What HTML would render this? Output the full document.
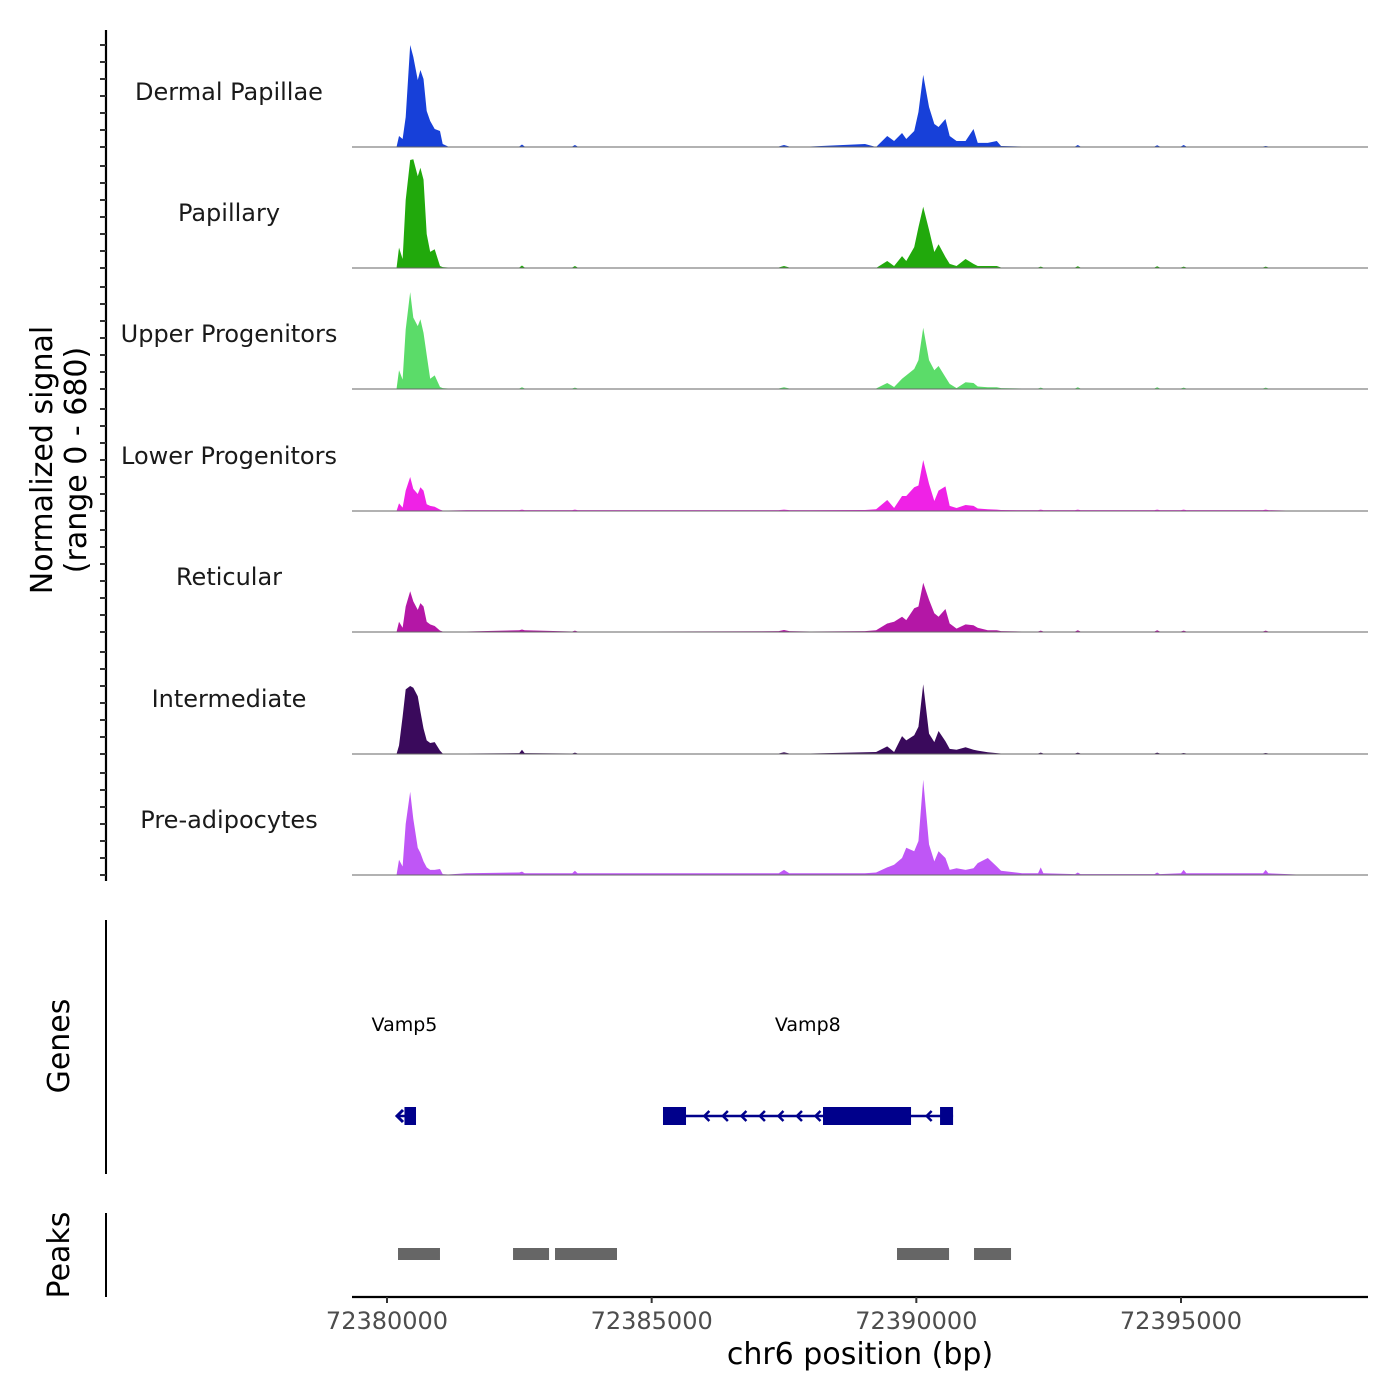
<!DOCTYPE html>
<html><head><meta charset="utf-8"><style>
html,body{margin:0;padding:0;background:#fff}
svg{display:block;font-family:"DejaVu Sans","Liberation Sans",sans-serif}
</style></head><body>
<svg id="chart" width="1400" height="1400" viewBox="0 0 1400 1400" xmlns="http://www.w3.org/2000/svg">
<g id="tracks"></g>
<g id="yaxis"></g>
<text transform="translate(52,460) rotate(-90)" text-anchor="middle" font-size="30" fill="#000">Normalized signal</text>
<text transform="translate(86,460) rotate(-90)" text-anchor="middle" font-size="30" fill="#000">(range 0 - 680)</text>
<line x1="106" y1="920" x2="106" y2="1174" stroke="#000" stroke-width="2"/>
<text transform="translate(69,1046) rotate(-90)" text-anchor="middle" font-size="30" fill="#000">Genes</text>
<g id="genes"></g>
<line x1="106" y1="1213" x2="106" y2="1297" stroke="#000" stroke-width="2"/>
<text transform="translate(69,1255) rotate(-90)" text-anchor="middle" font-size="30" fill="#000">Peaks</text>
<g id="peaks"></g>
<g id="xaxis"></g>
<text x="860" y="1364" text-anchor="middle" font-size="30" fill="#000">chr6 position (bp)</text>
</svg>
<script>
const trackNames=["Dermal Papillae","Papillary","Upper Progenitors","Lower Progenitors","Reticular","Intermediate","Pre-adipocytes"];
const trackColors=["#1740d9","#21a90c","#5bdc69","#ef22e6","#b417a6","#3a0a5c","#bf56f6"];
// positions in kb offset from 72380000
const positionsKb=[0.18,0.227,0.295,0.353,0.438,0.497,0.581,0.631,0.690,0.750,0.816,0.901,1.001,1.052,1.154,
1.5,2.5,2.55,2.6,3.5,3.55,3.6,5.0,7.4,7.5,7.6,8.0,
9.03,9.24,9.45,9.58,9.73,9.81,9.96,10.04,10.13,10.24,10.34,10.42,10.55,10.63,10.76,10.93,11.08,11.16,11.35,11.52,11.60,
12.0,12.3,12.35,12.4,13.0,13.05,13.1,14.5,14.55,14.6,15.0,15.05,15.1,16.55,16.6,16.65,17.4];
const dermalValues=[0,65,47,176,600,530,394,453,400,212,153,106,94,18,3, 3,3,15,3,3,12,3,3,3,12,3,3, 18,0,65,35,82,47,94,206,424,235,135,118,165,65,35,35,106,24,24,35,6, 3,3,3,3,3,12,3,3,10,3,3,12,3,3,6,3,0];
const papillaryValues=[0,120,53,400,635,640,540,590,520,200,95,110,12,5,3, 3,3,15,3,3,12,3,3,3,12,3,3, 3,0,41,12,70,41,123,240,360,224,94,140,65,24,12,53,24,12,12,12,3, 3,3,8,3,3,10,3,3,10,3,3,8,3,3,8,3,0];
const upperValues=[0,110,55,350,570,420,370,410,330,200,60,80,12,5,3, 3,3,10,3,3,8,3,3,3,10,3,3, 3,3,35,12,60,80,118,170,360,170,110,135,70,30,5,40,35,15,10,10,5, 3,3,8,3,3,10,3,3,10,3,3,8,3,3,8,3,0];
const lowerValues=[0,45,20,120,200,130,100,140,120,40,30,25,8,3,3, 5,5,8,5,5,8,5,5,5,8,5,5, 6,10,65,18,88,88,140,150,300,160,59,120,145,30,18,35,30,15,10,8,6, 5,5,8,5,5,8,5,5,8,5,5,8,5,5,8,5,0];
const reticularValues=[0,60,25,150,240,180,130,170,150,60,45,35,8,3,3, 3,10,15,10,3,8,3,3,5,12,5,3, 5,10,50,60,90,70,140,150,290,190,110,90,135,50,20,45,40,25,10,10,5, 3,3,8,3,3,10,3,3,10,3,3,8,3,3,8,3,0];
const intermediateValues=[0,50,220,380,400,390,340,250,150,80,65,70,20,3,3, 3,5,25,5,3,8,3,3,3,10,3,3, 10,12,45,12,105,80,110,160,410,120,70,135,75,30,25,40,25,20,10,5,3, 3,3,8,3,3,8,3,3,8,3,3,6,3,3,6,3,0];
const preadipValues=[0,90,50,300,490,330,160,130,80,45,30,30,35,5,3, 10,15,20,10,10,25,10,10,10,30,10,10, 10,15,45,60,100,160,140,200,560,180,80,140,100,30,40,30,40,70,100,50,25, 10,10,45,10,5,15,5,5,15,5,10,30,10,10,30,10,0];
const trackValues=[dermalValues,papillaryValues,upperValues,lowerValues,reticularValues,intermediateValues,preadipValues];
const yTickValues=[0,100,200,300,400,500,600];
const xTickValues=[72380000,72385000,72390000,72395000];
const geneNames=["Vamp5","Vamp8"];
const geneLabelPos=[72380330,72387950];
const geneSpans=[[72380208,72380548],[72385214,72390694]];
const geneExons=[[[72380330,72380548]],[[72385214,72385649],[72388237,72389900],[72390448,72390694]]];
const peakStarts=[72380208,72382381,72383174,72389635,72391090];
const peakEnds=[72381001,72383061,72384345,72390618,72391789];

const NS="http://www.w3.org/2000/svg";
const X0=387, PXPERBP=0.052933;
function xScale(bp){return X0+(bp-72380000)*PXPERBP;}
const baselines=[147,268,389,511,632,754,875];
const YPX=0.17;
function yScale(v,i){return baselines[i]-v*YPX;}
function mk(tag,attrs,parent){const e=document.createElementNS(NS,tag);for(const k in attrs)e.setAttribute(k,attrs[k]);parent.appendChild(e);return e;}

const tracks=document.getElementById('tracks');
trackNames.forEach((name,i)=>{
  const vals=trackValues[i];
  let d="M"+xScale(72380000+positionsKb[0]*1000)+","+baselines[i];
  positionsKb.forEach((p,j)=>{d+=" L"+xScale(72380000+p*1000).toFixed(2)+","+yScale(vals[j],i).toFixed(2);});
  d+=" L"+xScale(72380000+positionsKb[positionsKb.length-1]*1000)+","+baselines[i]+" Z";
  const a=mk('path',{d:d,fill:trackColors[i],stroke:"none"},tracks);
  
  
  const l=mk('line',{x1:352,x2:1368,y1:baselines[i],y2:baselines[i],stroke:"#666","stroke-width":1},tracks);
  
  
  const t=mk('text',{x:229,y:baselines[i]-47,"text-anchor":"middle","font-size":"24",fill:"#1a1a1a"},tracks);
  t.textContent=name;
  
  
});

const yaxis=document.getElementById('yaxis');
const yl=mk('line',{x1:106,x2:106,y1:30,y2:881,stroke:"#000","stroke-width":2.2},yaxis);


baselines.forEach((b,i)=>{yTickValues.forEach(v=>{
  const tk=mk('line',{x1:100,x2:106,y1:yScale(v,i),y2:yScale(v,i),stroke:"#333","stroke-width":2},yaxis);
  
  
});});

const genes=document.getElementById('genes');
const GY=1116, GC="#00008b";
geneNames.forEach((g,i)=>{
  const lab=mk('text',{x:xScale(geneLabelPos[i]),y:1031,"text-anchor":"middle","font-size":"19",fill:"#000"},genes);
  lab.textContent=g;
  
  
  const s=geneSpans[i];
  const ln=mk('line',{x1:xScale(s[0]),x2:xScale(s[1]),y1:GY,y2:GY,stroke:GC,"stroke-width":2.5},genes);
  
  
  geneExons[i].forEach(e=>{
    const r=mk('rect',{x:xScale(e[0]),y:GY-9,width:xScale(e[1])-xScale(e[0]),height:18,fill:GC},genes);
    
    
  });
  const ex=geneExons[i];
  for(let p=s[0]+100;p<s[1];p+=350){
    if(ex.some(e=>p>e[0]-120&&p<e[1]+120)) continue;
    const x=xScale(p);
    const ar=mk('path',{d:`M${x+4},${GY-5} L${x-1},${GY} L${x+4},${GY+5}`,fill:"none",stroke:GC,"stroke-width":2.5},genes);
    
    
  }
  if(i===0){
    const x=xScale(s[0]);
    const ar=mk('path',{d:`M${x+5},${GY-6} L${x-1},${GY} L${x+5},${GY+6}`,fill:"none",stroke:GC,"stroke-width":3},genes);
    
    
  }
});

const peaks=document.getElementById('peaks');
peakStarts.forEach((s,i)=>{
  const r=mk('rect',{x:xScale(s),y:1248,width:xScale(peakEnds[i])-xScale(s),height:12,fill:"#666"},peaks);
  
  
});

const xaxis=document.getElementById('xaxis');
const xl=mk('line',{x1:352,x2:1368,y1:1297,y2:1297,stroke:"#000","stroke-width":2.2},xaxis);


xTickValues.forEach(v=>{
  const x=xScale(v);
  const tk=mk('line',{x1:x,x2:x,y1:1297,y2:1303,stroke:"#333","stroke-width":2},xaxis);
  
  
  const t=mk('text',{x:x,y:1329,"text-anchor":"middle","font-size":"24",fill:"#4d4d4d"},xaxis);
  t.textContent=String(v);
  
  
});
</script>
</body></html>
